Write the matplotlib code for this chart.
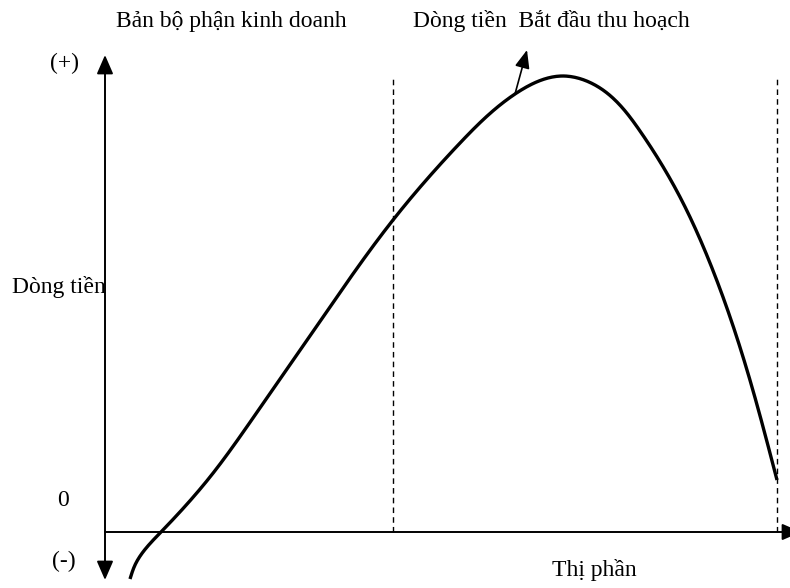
import numpy as np
import matplotlib
matplotlib.use('Agg')
import matplotlib.pyplot as plt
from matplotlib.patches import FancyArrowPatch

plt.rcParams['font.family'] = ['Liberation Serif', 'DejaVu Serif']

# Curve (market share, cash flow) in chart units, origin at axes crossing
share = [2.5, 3.0, 3.8, 5.6, 10.5, 14.8, 21.8, 28.8, 35.5, 41.0, 45.8, 49.5, 53.5,
         57.5, 60.5, 64.2, 67.2]
cash = [-4.7, -3.3, -2.0, 0.0, 5.5, 11.4, 21.5, 31.2, 38.9, 43.8, 45.6, 44.4, 40.1,
        33.5, 26.9, 16.2, 5.2]
arrow_start_idx = 9
arrow_tip = (42.2, 48.2)

# Stage boundaries (dashed lines)
boundaries = [28.8, 67.2]
boundary_top = 45.5

# Labels
top_label_left = "Bản bộ phận kinh doanh"
top_label_right = "Dòng tiền  Bắt đầu thu hoạch"
y_label = "Dòng tiền"
x_label = "Thị phần"
plus_label = "(+)"
zero_label = "0"
minus_label = "(-)"


def natural_spline(x, y, xx):
    x = np.asarray(x, float)
    y = np.asarray(y, float)
    k = len(x)
    h = np.diff(x)
    A = np.zeros((k, k))
    r = np.zeros(k)
    A[0, 0] = A[-1, -1] = 1.0
    for i in range(1, k - 1):
        A[i, i - 1] = h[i - 1]
        A[i, i] = 2 * (h[i - 1] + h[i])
        A[i, i + 1] = h[i]
        r[i] = 3 * ((y[i + 1] - y[i]) / h[i] - (y[i] - y[i - 1]) / h[i - 1])
    c = np.linalg.solve(A, r)
    b = (y[1:] - y[:-1]) / h - h * (2 * c[:-1] + c[1:]) / 3
    d = (c[1:] - c[:-1]) / (3 * h)
    idx = np.clip(np.searchsorted(x, xx) - 1, 0, k - 2)
    dx = xx - x[idx]
    return y[idx] + b[idx] * dx + c[idx] * dx ** 2 + d[idx] * dx ** 3


def smooth_path(xs, ys, n=800):
    xs = np.asarray(xs, float)
    ys = np.asarray(ys, float)
    t = np.concatenate([[0], np.cumsum(np.hypot(np.diff(xs), np.diff(ys)))])
    tt = np.linspace(0, t[-1], n)
    return natural_spline(t, xs, tt), natural_spline(t, ys, tt)


fig = plt.figure(figsize=(7.9, 5.88), dpi=100)
ax = fig.add_axes([0, 0, 1, 1])
ax.set_xlim(-10.5, 68.5)
ax.set_ylim(-5.6, 53.2)
ax.axis('off')

# Axes arrows
ax.add_patch(FancyArrowPatch((0, -4.8), (0, 47.7), arrowstyle='<|-|>,head_length=1.15,head_width=0.5',
                             mutation_scale=10, lw=1.4, color='black', shrinkA=0, shrinkB=0))
ax.add_patch(FancyArrowPatch((0, 0), (69.6, 0), arrowstyle='-|>,head_length=1.15,head_width=0.5',
                             mutation_scale=10, lw=1.4, color='black', shrinkA=0, shrinkB=0))

# Dashed boundaries
for b in boundaries:
    ax.plot([b, b], [0, boundary_top], color='black', lw=1.0, ls=(0, (4, 3)))

# Curve
cx, cy = smooth_path(share, cash)
ax.plot(cx, cy, color='black', lw=2.4, solid_capstyle='butt')

# Small arrow from the curve
ax.add_patch(FancyArrowPatch((share[arrow_start_idx], cash[arrow_start_idx]), arrow_tip,
                             arrowstyle='-|>,head_length=1.1,head_width=0.45',
                             mutation_scale=10, lw=1.2, color='black', shrinkA=0, shrinkB=0))

fs = 17
ax.text(1.1, 50.5, top_label_left, fontsize=fs, ha='left', va='baseline')
ax.text(30.8, 50.5, top_label_right, fontsize=fs, ha='left', va='baseline')
ax.text(-4.0, 46.9, plus_label, fontsize=fs, ha='center', va='center')
ax.text(-4.2, 3.2, zero_label, fontsize=fs, ha='center', va='center')
ax.text(-4.1, -2.9, minus_label, fontsize=fs, ha='center', va='center')
ax.text(-9.3, 23.9, y_label, fontsize=fs, ha='left', va='baseline')
ax.text(44.7, -4.4, x_label, fontsize=fs, ha='left', va='baseline')

fig.savefig('out.png', dpi=100)
